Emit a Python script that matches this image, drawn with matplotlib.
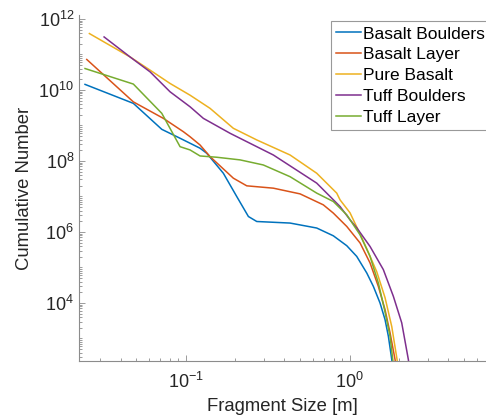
import matplotlib.pyplot as plt
from matplotlib.ticker import LogLocator, NullFormatter

plt.rcParams['font.family'] = ['Liberation Sans', 'DejaVu Sans']

# data (fragment size [m], cumulative number)
basalt_boulders_x = [0.0243, 0.0479, 0.0714, 0.0923, 0.1222, 0.1343, 0.1695, 0.2047, 0.241, 0.271,
                     0.4325, 0.629, 0.794, 0.959, 1.103, 1.270, 1.393, 1.530, 1.641, 1.72, 1.804, 1.862]
basalt_boulders_y = [1.43e10, 4.18e9, 7.76e8, 4.35e8, 2.28e8, 1.64e8, 4.5e7, 9.9e6, 2.72e6, 1.97e6,
                     1.78e6, 1.29e6, 7.8e5, 4.1e5, 2.05e5, 7.0e4, 2.94e4, 1.0e4, 3.42e3, 1.16e3, 2.57e2, 70]

basalt_layer_x = [0.0249, 0.0479, 0.0730, 0.0967, 0.1062, 0.1222, 0.1407, 0.195, 0.2355, 0.342,
                  0.498, 0.690, 0.794, 0.959, 1.156, 1.330, 1.494, 1.641, 1.761, 1.889, 1.957]
basalt_layer_y = [7.2e10, 4.6e9, 1.58e9, 6.65e8, 4.8e8, 2.81e8, 1.32e8, 3.27e7, 1.99e7, 1.71e7,
                  1.18e7, 5.8e6, 3.4e6, 1.43e6, 4.9e5, 1.34e5, 2.94e4, 6.5e3, 1.45e3, 2.57e2, 70]

pure_basalt_x = [0.02584, 0.0457, 0.0606, 0.0802, 0.1062, 0.1407, 0.195, 0.271, 0.4325, 0.629,
                 0.833, 0.873, 1.004, 1.124, 1.270, 1.461, 1.641, 1.804, 1.943, 1.998]
pure_basalt_y = [3.86e11, 8.5e10, 3.6e10, 1.52e10, 7.1e9, 3.02e9, 8.3e8, 3.9e8, 1.47e8, 4.5e7,
                 1.24e7, 8.0e6, 3.46e6, 1.15e6, 3.37e5, 7.6e4, 1.42e4, 2.17e3, 2.57e2, 70]

tuff_boulders_x = [0.03176, 0.0457, 0.0606, 0.0802, 0.1062, 0.128, 0.1863, 0.342, 0.629, 0.873,
                   1.004, 1.103, 1.330, 1.603, 1.845, 2.075, 2.277, 2.366]
tuff_boulders_y = [3.1e11, 8.5e10, 3.22e10, 8.85e9, 3.35e9, 1.58e9, 6.0e8, 1.47e8, 2.37e7, 5.2e6,
                   2.2e6, 1.31e6, 3.9e5, 8.7e4, 1.54e4, 2.76e3, 2.57e2, 70]

tuff_layer_x = [0.0243, 0.0479, 0.0714, 0.0923, 0.1062, 0.1222, 0.1545, 0.2144, 0.297, 0.4325,
                0.629, 0.794, 0.959, 1.156, 1.330, 1.494, 1.630, 1.761, 1.829, 1.889]
tuff_layer_y = [4.0e10, 1.46e10, 2.19e9, 2.52e8, 2.04e8, 1.38e8, 1.27e8, 1.07e8, 7.7e7, 3.6e7,
                1.24e7, 7.2e6, 3.04e6, 8.3e5, 2.05e5, 3.67e4, 6.5e3, 1.16e3, 2.57e2, 70]

fig = plt.figure(figsize=(4.86, 4.16), dpi=100, facecolor='white')
ax = fig.add_axes([0.1626, 0.1322, 0.8374, 0.8318])

ax.loglog(basalt_boulders_x, basalt_boulders_y, color='#0072BD', lw=1.1, label='Basalt Boulders')
ax.loglog(basalt_layer_x, basalt_layer_y, color='#D95319', lw=1.1, label='Basalt Layer')
ax.loglog(pure_basalt_x, pure_basalt_y, color='#EDB120', lw=1.1, label='Pure Basalt')
ax.loglog(tuff_boulders_x, tuff_boulders_y, color='#7E2F8E', lw=1.1, label='Tuff Boulders')
ax.loglog(tuff_layer_x, tuff_layer_y, color='#77AC30', lw=1.1, label='Tuff Layer')

ax.set_xlim(10**-1.651, 10**0.831)
ax.set_ylim(10**2.366, 10**12.11)

ax.set_xticks([0.1, 1.0])
ax.set_yticks([1e4, 1e6, 1e8, 1e10, 1e12])
ax.xaxis.set_minor_locator(LogLocator(base=10, subs=range(1, 10), numticks=100))
ax.yaxis.set_minor_locator(LogLocator(base=10, subs=range(1, 10), numticks=100))
ax.xaxis.set_minor_formatter(NullFormatter())
ax.yaxis.set_minor_formatter(NullFormatter())

for s in ['top', 'right']:
    ax.spines[s].set_visible(False)
for s in ['left', 'bottom']:
    ax.spines[s].set_color('#8c8c8c')
    ax.spines[s].set_linewidth(0.8)

ax.tick_params(which='both', direction='in', color='#8c8c8c', labelcolor='#262626',
               labelsize=13, width=0.6)
ax.tick_params(which='major', length=4)
ax.tick_params(which='minor', length=2)
ax.tick_params(axis='x', pad=8)

ax.set_xlabel('Fragment Size [m]', fontsize=13.3, color='#262626')
ax.set_ylabel('Cumulative Number', fontsize=13.3, color='#262626')

leg = ax.legend(loc='upper right', bbox_to_anchor=(1.01, 0.982), borderaxespad=0,
                fontsize=12.5, fancybox=False, framealpha=1, edgecolor='#999999',
                handlelength=1.45, handletextpad=0.12, labelspacing=0.33, borderpad=0.3)
leg.get_frame().set_linewidth(0.8)
leg.set_clip_on(False)

fig.savefig('out.png', dpi=100, facecolor='white')
